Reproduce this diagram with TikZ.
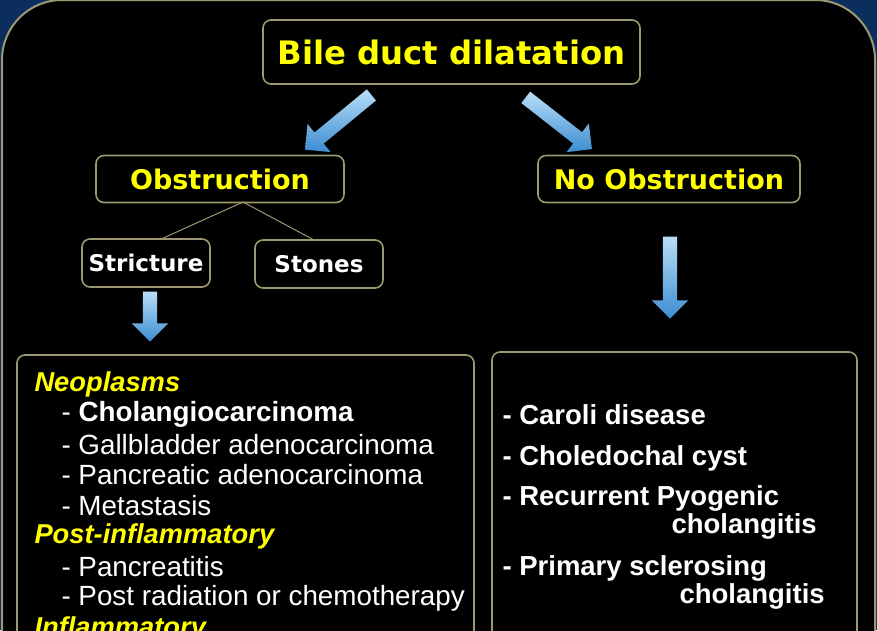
\documentclass[tikz,border=0pt]{standalone}
\usepackage{fontspec}
\setmainfont{Liberation Sans}
\newfontfamily\vfont{DejaVu Sans}
\usetikzlibrary{shapes.arrows}
\definecolor{navy}{HTML}{0B2E5E}
\definecolor{khaki}{HTML}{9C9870}
\definecolor{ylw}{HTML}{FFFF00}
\definecolor{lblue}{HTML}{B8DEF8}
\definecolor{dblue}{HTML}{3C8CD0}
\begin{document}
\begin{tikzpicture}[x=1pt,y=-1pt,
  box/.style={draw=khaki,line width=1.6pt,fill=black,rounded corners=8pt},
  head/.style={font=\vfont\bfseries\fontsize{32.3}{36}\selectfont,text=ylw},
  sub/.style={font=\vfont\bfseries\fontsize{27}{30}\selectfont,text=ylw},
  wh/.style={font=\vfont\bfseries\fontsize{23}{26}\selectfont,text=white},
  li/.style={font=\fontsize{27.8}{30}\selectfont,text=white,anchor=west},
  cat/.style={font=\bfseries\itshape\fontsize{27.3}{30}\selectfont,text=ylw,anchor=west},
  rt/.style={font=\bfseries\fontsize{27.5}{30}\selectfont,text=white,anchor=west},
  barrow/.style={single arrow,draw=none,minimum width=36pt,single arrow head extend=11pt,
    single arrow head indent=0pt,inner xsep=0pt,inner ysep=7pt,text height=0pt,text depth=0pt,
    top color=lblue,bottom color=dblue,shading angle=0},
  link/.style={draw=khaki,line width=1pt}]
\useasboundingbox (0,0) rectangle (877,630);
\fill[navy] (0,0) rectangle (877,630);
\begin{scope}
\clip (0,0) rectangle (877,630);
\draw[fill=black,draw=khaki,line width=2pt,rounded corners=60pt] (2,0) rectangle (875,700);
\draw[box] (17,355) rectangle (474,680);
\draw[box] (492,352) rectangle (857,680);
\node[cat] (neo) at (31,384) {Neoplasms};
\node[li] (l1) at (58,414) {- \textbf{Cholangiocarcinoma}};
\node[li] (l2) at (58,445) {- Gallbladder adenocarcinoma};
\node[li] (l3) at (58,475) {- Pancreatic adenocarcinoma};
\node[li] (l4) at (58,506) {- Metastasis};
\node[cat] (pi) at (31,536) {Post-inflammatory};
\node[li] (l5) at (58,567) {- Pancreatitis};
\node[li] (l6) at (58,598) {- Post radiation or chemotherapy};
\node[cat] (inf) at (31,629) {Inflammatory};
\end{scope}
\node[rt] (r1) at (499,415) {- Caroli disease};
\node[rt] (r2) at (499,458) {- Choledochal cyst};
\node[rt] (r3) at (499,498) {- Recurrent Pyogenic};
\node[rt] (r3b) at (668,526) {cholangitis};
\node[rt] (r4) at (499,568) {- Primary sclerosing};
\node[rt] (r4b) at (676,596) {cholangitis};
% boxes
\node[box,head,minimum width=377pt,minimum height=64pt] (bile) at (451.5,52) {Bile duct dilatation};
\node[box,sub,minimum width=248pt,minimum height=47pt] (obs) at (220,179) {Obstruction};
\node[box,sub,minimum width=262pt,minimum height=47pt] (nobs) at (669,179) {No Obstruction};
\node[box,wh,minimum width=128pt,minimum height=48pt] (str) at (146,263) {Stricture};
\node[box,wh,minimum width=128pt,minimum height=48pt] (sto) at (319,264) {Stones};
\coordinate (ob) at (243,202);
\draw[link] (ob) -- (160,239.5);
\draw[link] (ob) -- (315,240.5);
% arrows
\node[barrow,minimum height=86pt,rotate=219.5] (a1) at (341,120) {};
\node[barrow,minimum height=84pt,rotate=-38] (a2) at (556,121) {};
\node[barrow,minimum height=82pt,rotate=-90] (a3) at (670,274) {};
\node[barrow,minimum height=50pt,rotate=-90] (a4) at (150,313) {};
\end{tikzpicture}
\end{document}
